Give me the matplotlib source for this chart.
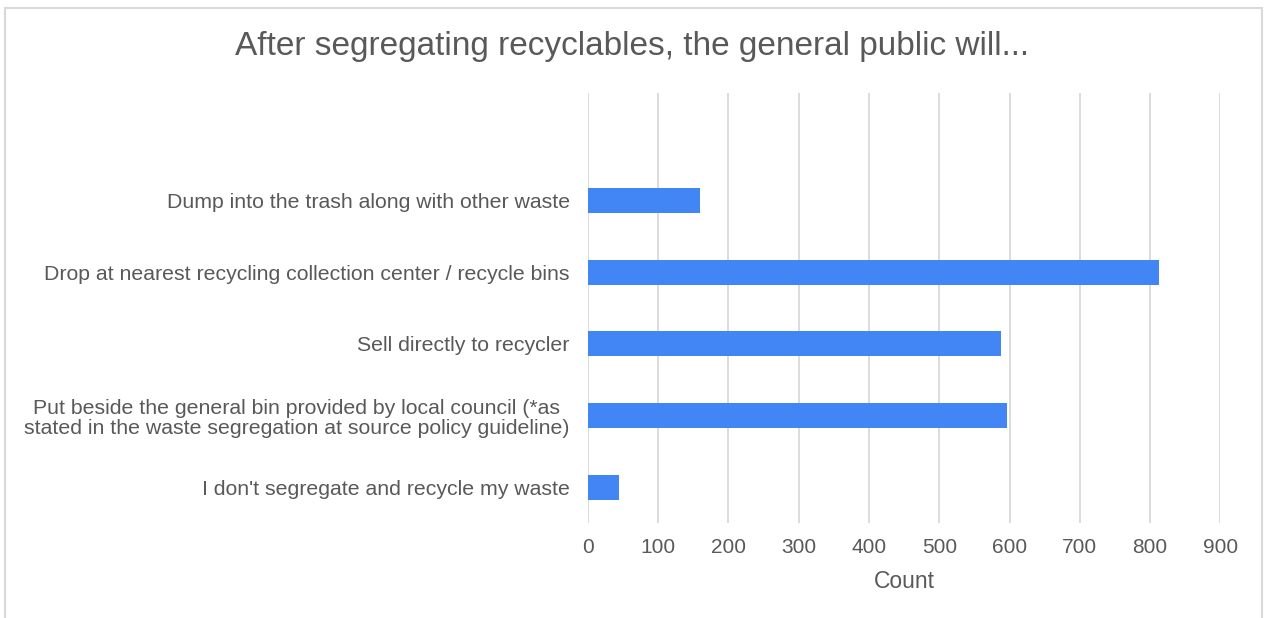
import matplotlib.pyplot as plt
from matplotlib.patches import Rectangle

plt.rcParams['font.family'] = ['Liberation Sans', 'DejaVu Sans']

# Data (top to bottom); first slot is empty in the original
categories = [
    '',
    'Dump into the trash along with other waste',
    'Drop at nearest recycling collection center / recycle bins',
    'Sell directly to recycler',
    'Put beside the general bin provided by local council (*as\nstated in the waste segregation at source policy guideline)',
    "I don't segregate and recycle my waste",
]
counts = [0, 160, 812, 588, 597, 44]
xticks = [0, 100, 200, 300, 400, 500, 600, 700, 800, 900]

text_color = '#595959'
bar_color = '#4285F4'
grid_color = '#d9d9d9'

fig = plt.figure(figsize=(12.64, 6.18), dpi=100)
ax = fig.add_axes([0.465, 0.1537, 0.5005, 0.6958])

ypos = list(range(len(categories)))
ax.barh(ypos, counts, height=0.35, color=bar_color, zorder=3)
ax.set_ylim(len(categories) - 0.5, -0.5)
ax.set_yticks(ypos)
ax.set_yticklabels(categories, multialignment='center', linespacing=1.12)

ax.set_xlim(0, 900)
ax.set_xticks(xticks)
ax.xaxis.grid(True, color=grid_color, linewidth=1.3, zorder=0)
ax.set_axisbelow(True)
for s in ax.spines.values():
    s.set_visible(False)

ax.tick_params(axis='y', length=0, pad=13, labelsize=15.3, labelcolor=text_color)
ax.tick_params(axis='x', length=0, pad=11, labelsize=15, labelcolor=text_color)
ax.set_xlabel('Count', fontsize=16.5, color=text_color, labelpad=9)

fig.text(0.5, 1 - 46 / 618, 'After segregating recyclables, the general public will...',
         ha='center', va='center', fontsize=24, color=text_color)

fig.patches.append(Rectangle((5 / 1264, -0.05), 1257 / 1264, 1.05 - 8 / 618,
                             transform=fig.transFigure, fill=False,
                             edgecolor=grid_color, linewidth=1.5))

fig.savefig('out.png', dpi=100)
